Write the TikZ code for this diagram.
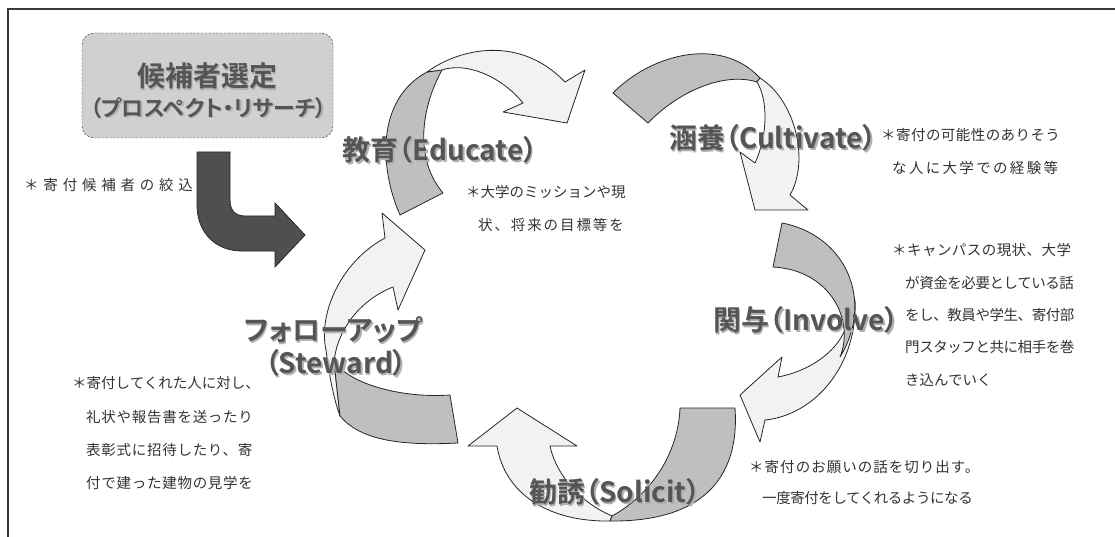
\documentclass[tikz,border=0pt]{standalone}
\usepackage{fontspec}
\setmainfont{Noto Sans CJK JP}
\newfontfamily\jp{Noto Sans CJK JP}[BoldFont={Noto Sans CJK JP Bold}]
\newfontfamily\jpp{Noto Sans CJK JP}[RawFeature=+palt,BoldFont={Noto Sans CJK JP Bold}]
\newcommand\lsp[2]{{\addfontfeatures{LetterSpace=#1}#2}}
\definecolor{lightband}{HTML}{F2F2F2}
\definecolor{grayband}{HTML}{BFBFBF}
\definecolor{edgec}{HTML}{262626}
\definecolor{darkarrow}{HTML}{4F4F4F}
\definecolor{headc}{HTML}{555555}
\definecolor{shc}{HTML}{B0B0B0}
\definecolor{notec}{HTML}{333333}
\definecolor{boxfill}{HTML}{D0D0D0}
\definecolor{framec}{HTML}{3A3A3A}
\tikzset{
  lband/.style={fill=lightband,draw=edgec,line width=0.8pt,line join=round},
  gband/.style={fill=grayband,draw=edgec,line width=0.8pt,line join=round},
  head/.style={font=\jpp\bfseries\fontsize{28}{30}\selectfont,text=headc,inner sep=0pt},
  note/.style={font=\jp\fontsize{14.5}{16}\selectfont,text=notec,inner sep=0pt,anchor=west},
}
\newcommand\heading[4][head]{%
  \node[#1,text=shc,xshift=1.6pt,yshift=-1.6pt] at (#3) {#4};
  \node[#1] (#2) at (#3) {#4};}
\begin{document}
\begin{tikzpicture}[x=1pt,y=-1pt]
\useasboundingbox (0,0) rectangle (1115,537);
% frame
\draw[framec,line width=2pt] (8,537) -- (8,9) -- (1115,9);
% prospect box
\node[draw=edgec,dashed,dash pattern=on 2.2pt off 1.6pt,fill=boxfill,rounded corners=12pt,
      minimum width=251pt,minimum height=105pt,inner sep=0pt] (box) at (207.5,85.5) {};
\heading[head]{t1}{207,76}{候補者選定}
\tikzset{headB/.style={head,font=\jpp\bfseries\fontsize{22}{24}\selectfont}}
\heading[headB]{t2}{208.5,108}{（プロスペクト・リサーチ）}
% dark arrow
\draw[fill=darkarrow,draw=edgec,line width=0.8pt,line join=miter]
  (197,152) -- (230,152) -- (230,200) .. controls (230,210) and (235,216) .. (245,216)
  -- (275,216) -- (275,203) -- (305,235) -- (275,267) -- (275,251) -- (242,251)
  .. controls (215,251) and (197,232) .. (197,205) -- cycle;
\node[note] (n0) at (24,185) {\lsp{33}{＊寄付候補者の絞込}};

% ---- Educate arrow
\draw[gband] (400,215) .. controls (380,170) and (375,100) .. (427,72) -- (442,70)
  .. controls (420,110) and (415,160) .. (443,193) -- cycle;
\draw[lband] (427,72) .. controls (460,48) and (520,35) .. (565,82) -- (585,70) -- (567,123)
  -- (503,112) -- (523,103) .. controls (500,75) and (465,62) .. (442,70) -- cycle;
% ---- Cultivate arrow
\draw[gband] (613,93) .. controls (650,55) and (720,35) .. (760,78) -- (757,82)
  .. controls (725,72) and (680,90) .. (648,123) -- cycle;
\draw[lband] (760,78) .. controls (795,100) and (810,160) .. (790,195) -- (808,210) -- (755,210)
  -- (740,152) -- (755,163) .. controls (768,135) and (768,100) .. (757,82) -- cycle;
% ---- Involve arrow
\draw[lband] (855,300) .. controls (858,365) and (815,415) .. (765,420) -- (760,442) -- (740,395)
  -- (782,357) -- (778,377) .. controls (815,370) and (845,345) .. (848,318) -- cycle;
\draw[gband] (782,223) .. controls (845,235) and (875,300) .. (840,357)
  .. controls (855,320) and (830,270) .. (773,267) -- cycle;
% ---- Solicit arrow
\draw[lband] (612,516) .. controls (575,500) and (555,470) .. (550,446) -- (577,446) -- (517,408)
  -- (468,446) -- (497,446) .. controls (505,495) and (550,522) .. (610,521) -- cycle;
\draw[gband] (735,408) .. controls (740,480) and (700,522) .. (610,521) -- (612,516)
  .. controls (650,495) and (678,455) .. (680,408) -- cycle;
% ---- Steward arrow
\draw[lband] (385,238) .. controls (340,262) and (318,315) .. (326,350)
  .. controls (329,375) and (334,400) .. (340,416) -- (334,362)
  .. controls (337,330) and (360,300) .. (393,287) -- (398,310) -- (425,250) -- (382,213) -- cycle;
\draw[gband] (334,362) .. controls (355,388) and (410,398) .. (450,395) -- (458,443)
  .. controls (400,446) and (360,440) .. (340,416) -- cycle;

% headings
\heading{h1}{440,150}{教育（Educate）}
\heading{h2}{773,138}{涵養（Cultivate）}
\heading{h3}{806,320}{関与（Involve）}
\heading{h4}{615,492}{勧誘（Solicit）}
\heading{h5a}{333,330}{フォローアップ}
\heading{h5b}{336,363}{（Steward）}

% notes
\node[note] (e1) at (466,192) {＊大学のミッションや現};
\node[note] (e2) at (478,225) {\lsp{13}{状、将来の目標等を}};
\node[note] (c1) at (881,135) {\lsp{3}{＊寄付の可能性のありそう}};
\node[note] (c2) at (892,168) {\lsp{16}{な人に大学での経験等}};
\node[note] (i1) at (892,250) {\lsp{3}{＊キャンパスの現状、大学}};
\node[note] (i2) at (905,283) {\lsp{-3}{が資金を必要としている話}};
\node[note] (i3) at (905,315) {\lsp{-3}{をし、教員や学生、寄付部}};
\node[note] (i4) at (905,347) {\lsp{-3}{門スタッフと共に相手を巻}};
\node[note] (i5) at (905,380) {き込んでいく};
\node[note] (s1) at (749,467) {\lsp{7}{＊寄付のお願いの話を切り出す。}};
\node[note] (s2) at (762,498) {\lsp{-3}{一度寄付をしてくれるようになる}};
\node[note] (w1) at (72,383) {＊寄付してくれた人に対し、};
\node[note] (w2) at (86,417) {\lsp{5}{礼状や報告書を送ったり}};
\node[note] (w3) at (86,450) {\lsp{5}{表彰式に招待したり、寄}};
\node[note] (w4) at (86,483) {\lsp{5}{付で建った建物の見学を}};
\end{tikzpicture}
\end{document}
